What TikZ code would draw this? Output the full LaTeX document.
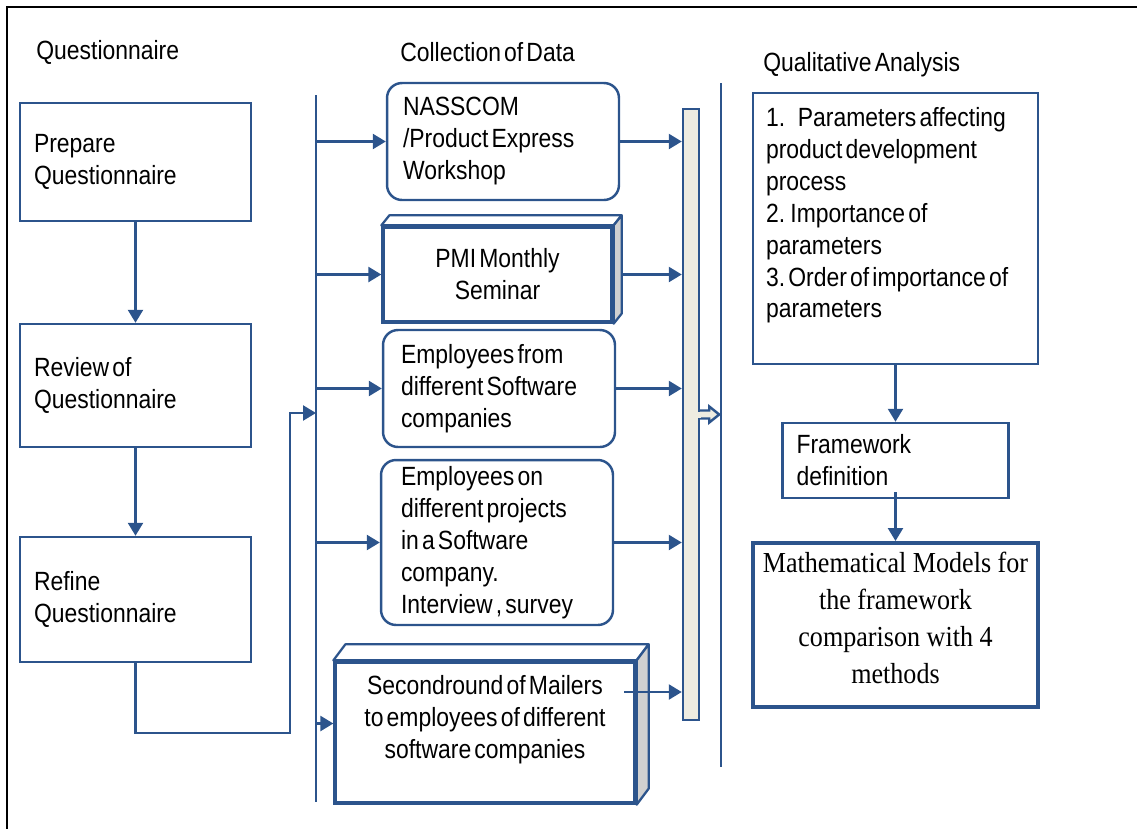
\documentclass[tikz,border=0pt]{standalone}
\usepackage{fontspec}
\setmainfont[FakeStretch=0.87,WordSpace=0.5]{Liberation Sans}
\newfontfamily\timesfont[FakeStretch=0.9]{Liberation Serif}
\usetikzlibrary{arrows.meta}
\definecolor{dblue}{RGB}{44,84,140}
\definecolor{barfill}{RGB}{238,236,225}
\definecolor{sidegray}{RGB}{208,208,208}
\hyphenpenalty=10000

\begin{document}
\begin{tikzpicture}[x=0.02cm, y=-0.02cm,
  every node/.style={font=\fontsize{15}{18.2}\selectfont, inner sep=0pt},
  box/.style={draw=dblue, line width=1.4pt, align=flush left},
  rbox/.style={box, rounded corners=0.3cm},
  tbox/.style={draw=dblue, line width=1.9pt, align=flush center},
  bevel/.style={draw=dblue, line width=1.3pt, fill=white, line join=round},
  line/.style={draw=dblue, line width=1.4pt},
  arr/.style={line, -{Triangle[length=0.26cm,width=0.3cm]}}]
\useasboundingbox (0,0) rectangle (1137,829);
\draw[line width=1.6pt] (7,829) -- (7,7) -- (1137,7);

% headings
\node[anchor=west] (hquest) at (36,52) {Questionnaire};
\node[anchor=west] (hcoll) at (400,52) {Collection of Data};
\node[anchor=west] (hqual) at (763,65) {Qualitative Analysis};

% questionnaire column
\node[box, minimum width=4.62cm, minimum height=2.36cm, text width=4.06cm] (prep) at (135.5,162) {Prepare\\Questionnaire};
\node[box, minimum width=4.62cm, minimum height=2.46cm, text width=4.06cm] (review) at (135.5,385.5) {Review of\\Questionnaire};
\node[box, minimum width=4.62cm, minimum height=2.5cm, text width=4.06cm] (refine) at (135.5,599.5) {Refine\\Questionnaire};
\draw[arr] (prep.south) -- (review.north);
\draw[arr] (review.south) -- (refine.north);

% collection of data
\node[rbox, minimum width=4.64cm, minimum height=2.34cm, text width=4.0cm] (nasscom) at (503,141.5) {NASSCOM\\/Product Express\\Workshop};
\node[tbox, minimum width=4.58cm, minimum height=1.9cm, text width=4.2cm] (pmi) at (497.5,274.5) {PMI Monthly\\Seminar};
\node[rbox, minimum width=4.64cm, minimum height=2.34cm, text width=3.92cm] (empsoft) at (499,388.5) {Employees from\\different Software\\companies};
\node[rbox, minimum width=4.64cm, minimum height=3.3cm, text width=3.84cm] (empproj) at (497,542.5) {Employees on\\different projects\\in a Software\\company.\\Interview , survey};
\node[tbox, minimum width=6cm, minimum height=2.82cm, text width=5.8cm] (mailers) at (485,732.5) {Secondround of Mailers\\to employees of different\\software companies\\~};

\draw[bevel] (pmi.north west) -- ++(8,-10) -- ([shift={(8,-10)}]pmi.north east) -- (pmi.north east) -- cycle;
\draw[bevel, fill=sidegray] (pmi.north east) -- ++(8,-10) -- ([shift={(8,-10)}]pmi.south east) -- (pmi.south east) -- cycle;
\draw[bevel] (mailers.north west) -- ++(12,-16) -- ([shift={(12,-16)}]mailers.north east) -- (mailers.north east) -- cycle;
\draw[bevel, fill=sidegray] (mailers.north east) -- ++(12,-16) -- ([shift={(12,-16)}]mailers.south east) -- (mailers.south east) -- cycle;

% bus line and collecting bar
\coordinate (bustop) at (316,95);
\coordinate (busbot) at (316,802);
\draw[line] (bustop) -- (busbot);
\node[draw=dblue, fill=barfill, line width=1.4pt, minimum width=0.32cm, minimum height=12.22cm] (bar) at (691,414.5) {};
\draw[line, fill=barfill, line join=miter] ([shift={(0,-4)}]bar.east) -- ++(9,0) -- ++(0,-4) -- ++(10,8) -- ++(-10,8) -- ++(0,-4) -- ++(-9,0);
\fill[barfill] ([shift={(-2,-3)}]bar.east) rectangle ([shift={(1,3)}]bar.east);

\foreach \n in {nasscom,pmi,empsoft,empproj}
  \draw[arr] (bustop |- \n.west) -- (\n.west);
\coordinate (mailin) at ([yshift=0.18cm]mailers.west);
\draw[arr] (bustop |- mailin) -- (mailin);

\foreach \n in {nasscom,empsoft,empproj}
  \draw[arr] (\n.east) -- (bar.west |- \n.east);
\draw[arr] ([xshift=0.16cm]pmi.east) -- (bar.west |- pmi.east);
\coordinate (mailout) at (624,692);
\draw[arr] (mailout) -- (bar.west |- mailout);

% feedback from refine
\coordinate (loopa) at (290,733);
\coordinate (loopb) at (290,413);
\draw[arr] (refine.south) |- (loopa) -- (loopb) -- (bustop |- loopb);

% separator
\coordinate (septop) at (721,83);
\coordinate (sepbot) at (721,767);
\draw[line] (septop) -- (sepbot);

% qualitative analysis
\node[box, minimum width=5.7cm, minimum height=5.42cm, text width=5.18cm] (params) at (895.5,228.5) {1.~~~~Parameters~affecting\\product development\\process\\2. Importance of\\parameters\\3.~Order~of~importance~of\\parameters\\~};
\node[box, minimum width=4.52cm, minimum height=1.5cm, text width=3.96cm] (frame) at (895.5,460.5) {Framework\\definition};
\node[tbox, line width=2.3pt, minimum width=5.7cm, minimum height=3.28cm, text width=5.66cm, font=\timesfont\fontsize{16.5}{21}\selectfont] (models) at (895.5,625) {Mathematical~Models~for\\the framework\\comparison with 4\\methods\\[-0.46cm]~};
\draw[arr] (params.south) -- (frame.north);
\draw[arr] ([yshift=0.14cm]frame.south) -- (models.north);
\end{tikzpicture}
\end{document}
